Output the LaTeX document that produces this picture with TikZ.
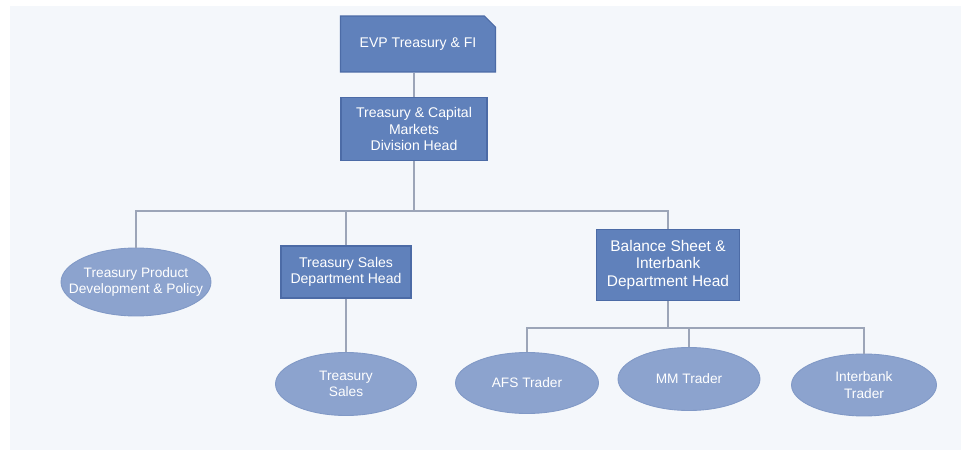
\documentclass[tikz,border=0pt]{standalone}
\usepackage{fontspec}
\setmainfont{Liberation Sans}
\usetikzlibrary{shapes.geometric,shapes.misc}
\definecolor{pagebg}{HTML}{F4F7FB}
\definecolor{headfill}{HTML}{6081BB}
\definecolor{headdraw}{HTML}{4C6BA6}
\definecolor{unitfill}{HTML}{8CA3CE}
\definecolor{unitdraw}{HTML}{8199C6}
\definecolor{linkline}{HTML}{9CA5B8}
\tikzset{
  headbox/.style={draw=headdraw, fill=headfill, text=white, align=center,
                  inner sep=0pt, line width=0.6pt,
                  font=\fontsize{8}{9.5}\selectfont},
  unitoval/.style={ellipse, draw=unitdraw, fill=unitfill, text=white, align=center,
                   inner xsep=-1cm, inner ysep=-0.3cm, line width=0.5pt,
                   font=\fontsize{7.8}{9.5}\selectfont},
  link/.style={draw=linkline, line width=0.6pt},
}
\begin{document}
\begin{tikzpicture}[x=0.02cm, y=-0.02cm]
    \useasboundingbox (0,0) rectangle (967,456);
    \fill[pagebg] (10,6) rectangle (961,450);
    \node[headbox, chamfered rectangle, chamfered rectangle corners=north east,
          chamfered rectangle xsep=0.11cm, chamfered rectangle ysep=0.11cm,
          minimum width=3.1cm, minimum height=1.12cm] (evp) at (418,44) {EVP Treasury \& FI};
    \node[headbox, minimum width=2.92cm, minimum height=1.26cm] (div) at (414,129)
        {Treasury \& Capital\\Markets\\Division Head};
    \node[unitoval, minimum width=3.0cm, minimum height=1.36cm] (prod) at (136,282)
        {Treasury Product\\Development \& Policy};
    \node[headbox, minimum width=2.6cm, minimum height=1.04cm] (sales) at (346,272)
        {Treasury Sales\\Department Head};
    \node[headbox, minimum width=2.86cm, minimum height=1.42cm,
          font=\fontsize{8.8}{10.2}\selectfont] (bal) at (668,265)
        {Balance Sheet \&\\Interbank\\Department Head};
    \node[unitoval, minimum width=2.82cm, minimum height=1.26cm] (tsales) at (346,384)
        {Treasury\\Sales};
    \node[unitoval, minimum width=2.86cm, minimum height=1.22cm] (afs) at (527,383)
        {AFS Trader};
    \node[unitoval, minimum width=2.84cm, minimum height=1.26cm] (mm) at (689,379)
        {MM Trader};
    \node[unitoval, minimum width=2.9cm, minimum height=1.24cm] (ib) at (864,385)
        {Interbank\\Trader};
    \coordinate (bus1) at (414,211);
    \coordinate (bus2) at (668,328);
    \draw[link] (evp.south -| div) -- (div.north);
    \draw[link] (div.south) -- (bus1);
    \draw[link] (prod.north) |- (bus1) -| (bal.north);
    \draw[link] (sales.north) -- (sales.north |- bus1);
    \draw[link] (sales.south) -- (tsales.north);
    \draw[link] (bal.south) -- (bus2);
    \draw[link] (afs.north) |- (bus2) -| (ib.north);
    \draw[link] (mm.north) -- (mm.north |- bus2);
\end{tikzpicture}
\end{document}
